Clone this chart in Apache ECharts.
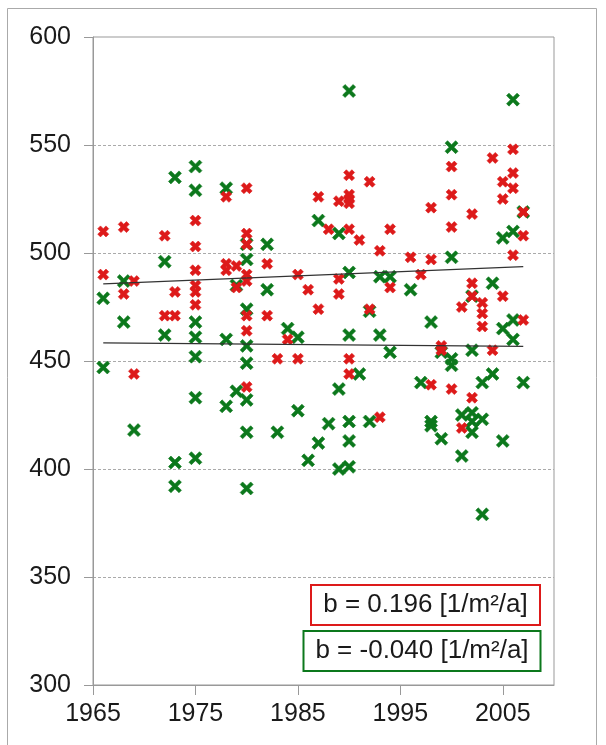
<!DOCTYPE html>
<html>
<head>
<meta charset="utf-8">
<script src="https://cdn.jsdelivr.net/npm/echarts@6/dist/echarts.min.js"></script>
<style>
html,body{margin:0;padding:0;background:#fff;}
#c{width:606px;height:745px;}
</style>
</head>
<body>
<div id="c"></div>
<script>
// Red series (year, value)
var redData = [
 [1966,510],[1966,490],[1968,512],[1968,481],[1969,487],[1969,444],
 [1972,508],[1972,471],[1973,482],[1973,471],
 [1975,515],[1975,503],[1975,492],[1975,485],[1975,482],[1975,476],
 [1978,526],[1978,495],[1978,492],[1979,494],[1979,484],
 [1980,530],[1980,509],[1980,504],[1980,490],[1980,487],[1980,471],[1980,464],[1980,438],
 [1982,495],[1982,471],[1983,451],[1984,460],[1985,490],[1985,451],[1986,483],
 [1987,526],[1987,474],[1988,511],[1989,524],[1989,488],[1989,481],
 [1990,536],[1990,527],[1990,525],[1990,523],[1990,511],[1990,451],[1990,444],
 [1991,506],[1992,533],[1992,474],[1993,501],[1993,424],[1994,511],[1994,484],
 [1996,498],[1997,490],[1998,521],[1998,497],[1998,439],[1999,457],[1999,455],
 [2000,540],[2000,527],[2000,512],[2000,437],[2001,475],[2001,419],
 [2002,518],[2002,486],[2002,480],[2002,433],[2003,477],[2003,472],[2003,466],
 [2004,544],[2004,455],[2005,533],[2005,525],[2005,480],
 [2006,548],[2006,537],[2006,530],[2006,499],[2007,519],[2007,508],[2007,469]
];
// Green series (year, value)
var greenData = [
 [1966,479],[1966,447],[1968,487],[1968,468],[1969,418],[1972,496],[1972,462],
 [1973,535],[1973,403],[1973,392],
 [1975,540],[1975,529],[1975,468],[1975,461],[1975,452],[1975,433],[1975,405],
 [1978,530],[1978,460],[1978,429],[1979,485],[1979,436],
 [1980,504],[1980,497],[1980,474],[1980,457],[1980,449],[1980,432],[1980,417],[1980,391],
 [1982,504],[1982,483],[1983,417],[1984,465],[1985,461],[1985,427],[1986,404],
 [1987,515],[1987,412],[1988,421],[1989,509],[1989,437],[1989,400],
 [1990,575],[1990,491],[1990,462],[1990,422],[1990,413],[1990,401],
 [1991,444],[1992,473],[1992,422],[1993,489],[1993,462],[1994,489],[1994,454],
 [1996,483],[1997,440],[1998,468],[1998,422],[1998,420],[1999,454],[1999,414],
 [2000,549],[2000,498],[2000,451],[2000,448],[2001,425],[2001,406],
 [2002,480],[2002,455],[2002,426],[2002,422],[2002,417],[2003,440],[2003,423],[2003,379],
 [2004,486],[2004,444],[2005,507],[2005,465],[2005,413],
 [2006,571],[2006,510],[2006,469],[2006,460],[2007,519],[2007,440]
];
// Trend lines (endpoints)
var redTrend = [[1966,485.7],[2007,493.7]];
var greenTrend = [[1966,458.4],[2007,456.8]];
var redLabel = 'b = 0.196 [1/m²/a]';
var greenLabel = 'b = -0.040 [1/m²/a]';

var RED = '#dd1a1a', GREEN = '#0c781c';
var redX = 'path://M0,2.5 L2.5,0 L5,2.5 L7.5,0 L10,2.5 L7.5,5 L10,7.5 L7.5,10 L5,7.5 L2.5,10 L0,7.5 L2.5,5 Z';
var greenX = 'path://M0,1.9 L1.9,0 L5,3.1 L8.1,0 L10,1.9 L6.9,5 L10,8.1 L8.1,10 L5,6.9 L1.9,10 L0,8.1 L3.1,5 Z';
var FONT = '"Liberation Sans", Arial, sans-serif';

var chart = echarts.init(document.getElementById('c'), null, {renderer:'canvas'});
chart.setOption({
  animation:false,
  backgroundColor:'#fff',
  grid:{left:93,right:52,top:37,bottom:60,show:true,borderColor:'#999',borderWidth:1,backgroundColor:'transparent'},
  xAxis:{type:'value',min:1965,max:2010,interval:10,
    axisLine:{show:true,lineStyle:{color:'#999',width:1}},
    axisTick:{show:true,length:10,inside:false,lineStyle:{color:'#999'}},
    axisLabel:{showMaxLabel:false,fontSize:25,color:'#1a1a1a',fontFamily:FONT,margin:17,formatter:function(v){return String(v);}},
    splitLine:{show:false}},
  yAxis:{type:'value',min:300,max:600,interval:50,
    axisLine:{show:true,lineStyle:{color:'#999',width:1}},
    axisTick:{show:true,length:9,lineStyle:{color:'#999'}},
    axisLabel:{fontSize:25,color:'#1a1a1a',fontFamily:FONT,margin:22},
    splitLine:{show:true,showMinLine:false,showMaxLine:false,lineStyle:{color:'#aaa',type:[3,2],width:1}}},
  series:[
    {type:'scatter',data:greenData,symbol:greenX,symbolSize:13,itemStyle:{color:GREEN,borderColor:GREEN,borderWidth:0.6,opacity:1},z:2},
    {type:'scatter',data:redData,symbol:redX,symbolSize:11,itemStyle:{color:RED,borderColor:RED,borderWidth:0.6,opacity:1},z:3},
    {type:'line',data:redTrend,symbol:'none',lineStyle:{color:'#333',width:1.3},z:4},
    {type:'line',data:greenTrend,symbol:'none',lineStyle:{color:'#333',width:1.3},z:4}
  ],
  graphic:[
    {type:'rect',shape:{x:7.5,y:8.5,width:589,height:745},style:{fill:'none',stroke:'#aaa',lineWidth:1},silent:true,z:0},
    {type:'rect',shape:{x:311,y:585,width:229,height:40},style:{fill:'#fff',stroke:RED,lineWidth:2},z:10},
    {type:'text',x:425.5,y:605,style:{text:redLabel,fontSize:26,fontFamily:FONT,fill:'#1a1a1a',align:'center',verticalAlign:'middle'},z:11},
    {type:'rect',shape:{x:303.5,y:631,width:237,height:40},style:{fill:'#fff',stroke:GREEN,lineWidth:2},z:10},
    {type:'text',x:422,y:651,style:{text:greenLabel,fontSize:26,fontFamily:FONT,fill:'#1a1a1a',align:'center',verticalAlign:'middle'},z:11}
  ]
});
</script>
</body>
</html>
